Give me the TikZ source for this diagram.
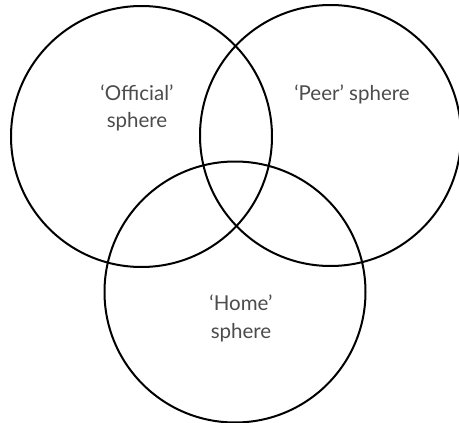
\documentclass[tikz,border=0pt]{standalone}
\usepackage{fontspec}
\setmainfont{Lato}
\usepackage{tikz}

\begin{document}
\begin{tikzpicture}[x=1pt, y=-1pt, every text node part/.style={align=center},
  sphere/.style={draw, circle, line width=2pt, minimum size=261pt, inner sep=0pt},
  label text/.style={text=black!70, font=\fontsize{20.5}{28}\selectfont, inner sep=0pt}]
\useasboundingbox (0,0) rectangle (459,423);

\node (official) [sphere] at (141.5,136.5) {};
\node (peer) [sphere] at (330.5,135.5) {};
\node (home) [sphere] at (235,292) {};

% base of a two-line node sits on its last line
\node (official text) [label text, anchor=base] at (137,128) {`Official'\\sphere};
\node (peer text) [label text, anchor=base] at (352,100) {`Peer' sphere};
\node (home text) [label text, anchor=base] at (241,338) {`Home'\\sphere};

\end{tikzpicture}
\end{document}
